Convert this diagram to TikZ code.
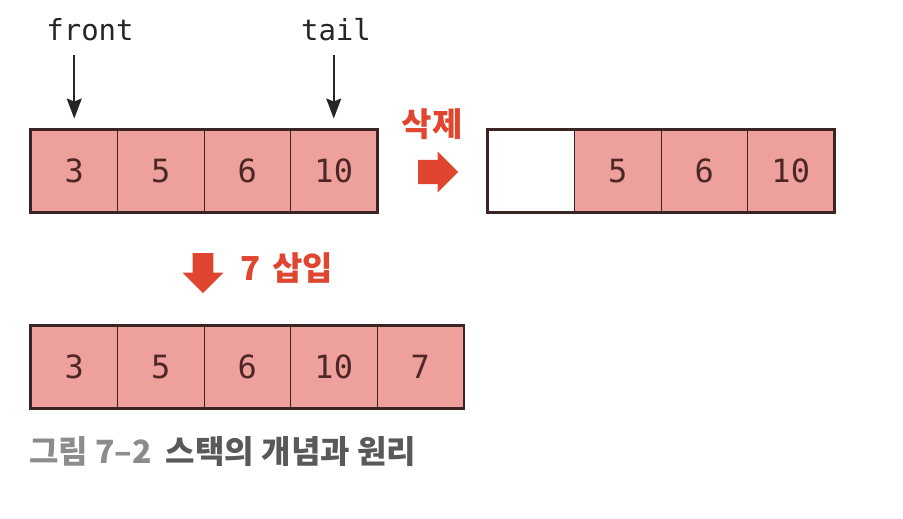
\documentclass[tikz,border=0pt]{standalone}
\usepackage{fontspec}
\usepackage{tikz}
\setmonofont{DejaVu Sans Mono}
\newfontfamily\kr{Noto Sans CJK KR}
\usetikzlibrary{arrows.meta,shapes.arrows,positioning}
\definecolor{cellpink}{HTML}{EEA19C}
\definecolor{celledge}{HTML}{3A2424}
\definecolor{celltext}{HTML}{4E2626}
\definecolor{opred}{HTML}{E0462F}
\tikzset{
  cell/.style={draw=celledge, line width=1pt, fill=cellpink, minimum width=86.5pt, minimum height=82pt, inner sep=0pt, font=\ttfamily\fontsize{32}{32}\selectfont, text=celltext},
  ptr/.style={inner sep=0pt, font=\ttfamily\fontsize{29}{29}\selectfont, text=black!85},
  fatarrow/.style={single arrow, fill=opred, draw=none, minimum width=41pt, minimum height=40pt, inner xsep=8pt, inner ysep=11.5pt, single arrow head extend=8pt},
  oplabel/.style={inner sep=0pt, font=\kr\bfseries\fontsize{33}{33}\selectfont, text=opred}
}

\begin{document}
\begin{tikzpicture}[x=1pt,y=-1pt]
\useasboundingbox (0,0) rectangle (903,519);

\foreach \v [count=\i] in {3,5,6,10}
  \node[cell] (a\i) at ({31+86.5*(\i-0.5)},171) {\v};
\draw[celledge, line width=2.5pt] (a1.north west) rectangle (a4.south east);

\node[ptr] (front) at (90,30) {front};
\node[ptr] (tail) at (336,30) {tail};
\draw[line width=1.6pt, black!85, -{Stealth[length=20pt,width=15pt,inset=3pt]}, shorten <=14pt, shorten >=11pt] (front.south -| a1.north) -- (a1.north);
\draw[line width=1.6pt, black!85, -{Stealth[length=20pt,width=15pt,inset=3pt]}, shorten <=14pt, shorten >=11pt] (tail.south -| a4.north) -- (a4.north);

\node[fatarrow] (del) at (432,172) {};
\node[oplabel] (dellabel) at (432,124) {삭제};

\node[cell, fill=white] (b1) at ({488+43.25},171) {};
\foreach \v [count=\i from 2] in {5,6,10}
  \node[cell] (b\i) at ({488+86.5*(\i-0.5)},171) {\v};
\draw[celledge, line width=2.5pt] (b1.north west) rectangle (b4.south east);

\node[fatarrow, shape border rotate=270] (ins) at (203,268) {};
\node[oplabel, anchor=west] (inslabel) at (240,268) {7\hspace{12pt}삽입};

\foreach \v [count=\i] in {3,5,6,10,7}
  \node[cell] (c\i) at ({31+86.5*(\i-0.5)},367) {\v};
\draw[celledge, line width=2.5pt] (c1.north west) rectangle (c5.south east);

\node[anchor=west, inner sep=0pt, font=\kr\bfseries\fontsize{32}{32}\selectfont, text=black!65] (caption) at (29,452) {{\color{black!45}그림 7–2}\hspace{14pt}스택의 개념과 원리};
\end{tikzpicture}
\end{document}
